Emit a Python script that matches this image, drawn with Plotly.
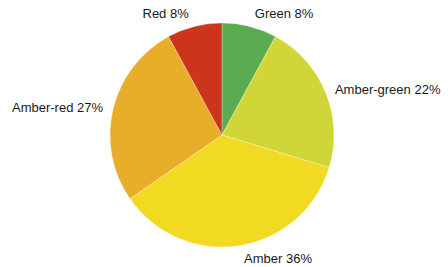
import plotly.graph_objects as go

labels = ["Green", "Amber-green", "Amber", "Amber-red", "Red"]
values = [8, 22, 36, 27, 8]
colors = ["#5aab52", "#d0d637", "#f2d922", "#e8ae2a", "#cc341c"]

W, H = 448, 267
CX, CY = 222, 132  # centre (from bottom)
R = 112
R_LABEL = 118


def dom(r):
    return dict(x=[(CX - r) / W, (CX + r) / W], y=[(CY - r) / H, (CY + r) / H])


fig = go.Figure()
# the coloured pie
fig.add_trace(go.Pie(
    labels=labels,
    values=values,
    sort=False,
    direction="clockwise",
    rotation=0,
    marker=dict(colors=colors, line=dict(color="rgba(255,255,255,0.6)", width=0.5)),
    textinfo="none",
    hoverinfo="label+value",
    domain=dom(R),
))
# transparent companion pie that only carries the outside labels
fig.add_trace(go.Pie(
    labels=labels,
    values=values,
    sort=False,
    direction="clockwise",
    rotation=0,
    marker=dict(colors=["rgba(0,0,0,0)"] * len(values), line=dict(width=0)),
    textposition="outside",
    texttemplate="%{label} %{value}%",
    textfont=dict(family="Liberation Sans, Arial, sans-serif", size=13, color="#1a1a1a"),
    hoverinfo="skip",
    domain=dom(R_LABEL),
))
fig.update_layout(
    width=W, height=H,
    showlegend=False,
    margin=dict(l=0, r=0, t=0, b=0, pad=0, autoexpand=False),
    paper_bgcolor="white", plot_bgcolor="white",
)
fig.write_html("out.html")
